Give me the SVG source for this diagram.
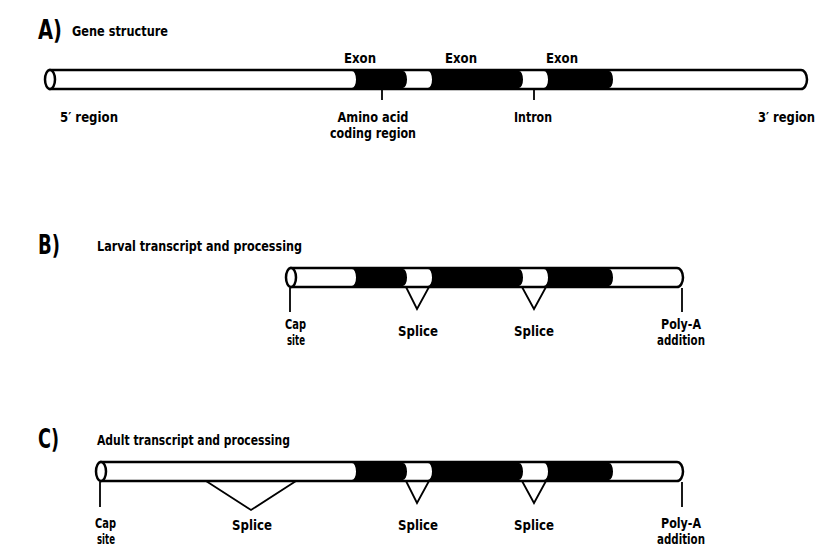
<svg xmlns="http://www.w3.org/2000/svg" width="823" height="559" viewBox="0 0 823 559">
<style>
text{font-family:"DejaVu Sans","Liberation Sans",sans-serif;font-weight:bold;fill:#000;font-size:14.5px}
.lbl{font-size:27px}
.c{text-anchor:middle}
.e{text-anchor:end}
.bar{fill:#fff;stroke:#000;stroke-width:2.5}
.ex{fill:#000}
.ln{fill:none;stroke:#000;stroke-width:1.8}
</style>
<rect width="823" height="559" fill="#fff"/>
<g id="titles">
<text class="lbl" x="38" y="39" textLength="24" lengthAdjust="spacingAndGlyphs">A)</text>
<text x="72" y="36" textLength="96" lengthAdjust="spacingAndGlyphs">Gene structure</text>
<text class="lbl" x="38" y="254" textLength="22" lengthAdjust="spacingAndGlyphs">B)</text>
<text x="97" y="251" textLength="205" lengthAdjust="spacingAndGlyphs">Larval transcript and processing</text>
<text class="lbl" x="38" y="448" textLength="21" lengthAdjust="spacingAndGlyphs">C)</text>
<text x="97" y="445" textLength="193" lengthAdjust="spacingAndGlyphs">Adult transcript and processing</text>
</g>
<g id="geneA">
<path class="bar" d="M50,70 L801,70 A6,9.5 0 0 1 801,89 L50,89 Z"/>
<ellipse class="bar" cx="50" cy="79.5" rx="5" ry="9.5"/>
<path class="ex" d="M352,71 L403,71 A4,8.5 0 0 1 403,88 L352,88 A4,8.5 0 0 0 352,71 Z"/>
<path class="ex" d="M428,71 L519,71 A4,8.5 0 0 1 519,88 L428,88 A4,8.5 0 0 0 428,71 Z"/>
<path class="ex" d="M544,71 L609,71 A4,8.5 0 0 1 609,88 L544,88 A4,8.5 0 0 0 544,71 Z"/>
<text class="c" x="360" y="63" textLength="32" lengthAdjust="spacingAndGlyphs">Exon</text>
<text class="c" x="461" y="63" textLength="32" lengthAdjust="spacingAndGlyphs">Exon</text>
<text class="c" x="562" y="63" textLength="32" lengthAdjust="spacingAndGlyphs">Exon</text>
<text x="60" y="122" textLength="58" lengthAdjust="spacingAndGlyphs">5′ region</text>
<text class="e" x="815" y="122" textLength="57" lengthAdjust="spacingAndGlyphs">3′ region</text>
<text class="c" x="373" y="122" textLength="71" lengthAdjust="spacingAndGlyphs">Amino acid</text>
<text class="c" x="373" y="138" textLength="86" lengthAdjust="spacingAndGlyphs">coding region</text>
<text class="c" x="533" y="122" textLength="38" lengthAdjust="spacingAndGlyphs">Intron</text>
</g>
<g id="transcriptB">
<path class="bar" d="M291,268 L677,268 A6,9.5 0 0 1 677,287 L291,287 Z"/>
<ellipse class="bar" cx="291" cy="277.5" rx="5" ry="9.5"/>
<path class="ex" d="M352,269 L403,269 A4,8.5 0 0 1 403,286 L352,286 A4,8.5 0 0 0 352,269 Z"/>
<path class="ex" d="M428,269 L519,269 A4,8.5 0 0 1 519,286 L428,286 A4,8.5 0 0 0 428,269 Z"/>
<path class="ex" d="M544,269 L609,269 A4,8.5 0 0 1 609,286 L544,286 A4,8.5 0 0 0 544,269 Z"/>
<text x="285" y="329" textLength="21" lengthAdjust="spacingAndGlyphs">Cap</text>
<text x="287" y="345" textLength="18" lengthAdjust="spacingAndGlyphs">site</text>
<text class="c" x="418" y="336" textLength="40" lengthAdjust="spacingAndGlyphs">Splice</text>
<text class="c" x="534" y="336" textLength="40" lengthAdjust="spacingAndGlyphs">Splice</text>
<text class="c" x="681" y="329" textLength="40" lengthAdjust="spacingAndGlyphs">Poly-A</text>
<text class="c" x="681" y="345" textLength="48" lengthAdjust="spacingAndGlyphs">addition</text>
</g>
<g id="transcriptC">
<path class="bar" d="M101,462 L677,462 A6,9.5 0 0 1 677,481 L101,481 Z"/>
<ellipse class="bar" cx="101" cy="471.5" rx="5" ry="9.5"/>
<path class="ex" d="M352,463 L403,463 A4,8.5 0 0 1 403,480 L352,480 A4,8.5 0 0 0 352,463 Z"/>
<path class="ex" d="M428,463 L519,463 A4,8.5 0 0 1 519,480 L428,480 A4,8.5 0 0 0 428,463 Z"/>
<path class="ex" d="M544,463 L609,463 A4,8.5 0 0 1 609,480 L544,480 A4,8.5 0 0 0 544,463 Z"/>
<text x="95" y="528" textLength="21" lengthAdjust="spacingAndGlyphs">Cap</text>
<text x="97" y="544" textLength="18" lengthAdjust="spacingAndGlyphs">site</text>
<text class="c" x="252" y="530" textLength="40" lengthAdjust="spacingAndGlyphs">Splice</text>
<text class="c" x="418" y="530" textLength="40" lengthAdjust="spacingAndGlyphs">Splice</text>
<text class="c" x="534" y="530" textLength="40" lengthAdjust="spacingAndGlyphs">Splice</text>
<text class="c" x="681" y="528" textLength="40" lengthAdjust="spacingAndGlyphs">Poly-A</text>
<text class="c" x="681" y="544" textLength="48" lengthAdjust="spacingAndGlyphs">addition</text>
</g>
<g id="connectors">
<path class="ln" d="M382,90 V100"/>
<path class="ln" d="M534,90 V100"/>
<path class="ln" d="M290,288 V312"/>
<path class="ln" d="M682,288 V312"/>
<path class="ln" d="M406,287 L417,309 L429,287"/>
<path class="ln" d="M522,287 L534,309 L546,287"/>
<path class="ln" d="M100,482 V507"/>
<path class="ln" d="M682,482 V507"/>
<path class="ln" d="M206,481 L251,510 L296,481"/>
<path class="ln" d="M406,481 L417,503 L429,481"/>
<path class="ln" d="M522,481 L534,503 L546,481"/>
</g>
</svg>
